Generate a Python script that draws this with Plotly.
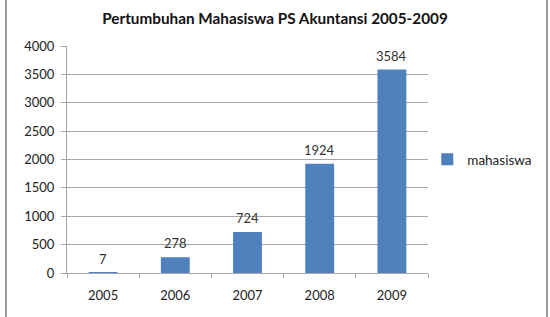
import plotly.graph_objects as go

years = ["2005", "2006", "2007", "2008", "2009"]
mahasiswa = [7, 278, 724, 1924, 3584]
y_ticks = [0, 500, 1000, 1500, 2000, 2500, 3000, 3500, 4000]
title_text = "Pertumbuhan Mahasiswa PS Akuntansi 2005-2009"
series_name = "mahasiswa"

FONT = "Lato, 'Open Sans', sans-serif"
BAR = "#4f81bd"
GRID = "#a6a6a6"

fig = go.Figure()
fig.add_trace(go.Bar(
    x=years, y=mahasiswa, name=series_name,
    marker=dict(color=BAR, line=dict(width=0)),
))

for i, v in enumerate(mahasiswa):
    fig.add_annotation(x=i, y=v, xref="x", yref="y", text=str(v), showarrow=False,
                       yshift=14, font=dict(family=FONT, size=13, color="#333333"))

fig.update_layout(
    width=550, height=317,
    margin=dict(l=67, r=122, t=46, b=44, autoexpand=False),
    paper_bgcolor="white", plot_bgcolor="white",
    title=dict(text="<b>" + title_text + "</b>", x=0.5, xref="container",
               xanchor="center", y=0.94, yanchor="middle",
               font=dict(family=FONT, size=15.3, color="#111111")),
    showlegend=True,
    legend=dict(x=0.998, y=0.5, xanchor="left", yanchor="middle",
                font=dict(family=FONT, size=13.5, color="#222222"),
                itemwidth=30, bgcolor="rgba(0,0,0,0)"),
    bargap=0.6,
)
fig.update_xaxes(
    type="category", categoryorder="array", categoryarray=years,
    range=[-0.5, len(years) - 0.5], autorange=False,
    showgrid=False, showline=True, linecolor=GRID, linewidth=1,
    ticks="outside", tickson="boundaries", ticklen=4, tickcolor=GRID,
    tickfont=dict(family=FONT, size=13, color="#222222"),
    tickangle=0, ticklabelstandoff=10,
)
fig.update_yaxes(
    range=[0, 4000], tickvals=y_ticks, showgrid=True, gridcolor=GRID, gridwidth=1,
    showline=True, linecolor=GRID, linewidth=1,
    ticks="outside", ticklen=5, tickcolor=GRID, zeroline=False,
    tickfont=dict(family=FONT, size=13, color="#222222"),
    ticklabelstandoff=4,
)

# outer chart border (left and right edges visible)
fig.add_shape(type="line", xref="paper", yref="paper", x0=-0.169, x1=-0.169,
              y0=-0.2, y1=1.21, line=dict(color="#9a9a9a", width=2))
fig.add_shape(type="line", xref="paper", yref="paper", x0=1.3296, x1=1.3296,
              y0=-0.2, y1=1.21, line=dict(color="#9a9a9a", width=2))

fig.write_html("out.html")
